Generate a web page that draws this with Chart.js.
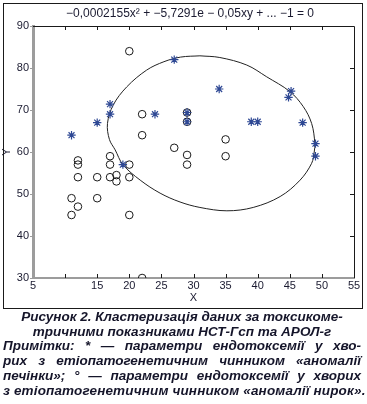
<!DOCTYPE html>
<html><head><meta charset="utf-8">
<script src="https://cdn.jsdelivr.net/npm/chart.js@4.4.1/dist/chart.umd.min.js"></script>
<style>
html,body{margin:0;padding:0;background:#fff}
body{width:367px;height:404px;overflow:hidden;position:relative;font-family:"Liberation Sans",Arial,sans-serif}
#wrap{position:absolute;left:0;top:0;width:367px;height:312px}
#cap{position:absolute;left:3px;top:310px;width:358px;font-weight:bold;font-style:italic;font-size:13.5px;line-height:14.7px;color:#15152a}
#cap div{white-space:nowrap}
.c{text-align:center}
.j{text-align:justify;text-align-last:justify;white-space:normal !important}
.l{text-align:left;letter-spacing:0.15px}
</style></head><body>
<div id="wrap"><canvas id="c" width="367" height="312"></canvas></div>
<div id="cap">
<div class="c">Рисунок 2. Кластеризація даних за токсикоме-</div>
<div class="c">тричними показниками НСТ-Гсп та АРОЛ-г</div>
<div class="j">Примітки: * — параметри ендотоксемії у хво-</div>
<div class="j">рих з етіопатогенетичним чинником «аномалії</div>
<div class="j">печінки»; ° — параметри ендотоксемії у хворих</div>
<div class="l">з етіопатогенетичним чинником «аномалії нирок».</div>
</div>
<script>
// Group "аномалії нирок" (circles)
const circleX = [20, 22, 22, 27, 17, 12, 12, 17, 20, 12, 15, 17, 18, 18, 20, 11, 15, 12, 11, 20, 22, 29, 29, 29, 29, 35, 35];
const circleY = [84, 69, 64, 61, 59, 58, 57, 57, 57, 54, 54, 54, 54.5, 53, 54, 49, 49, 47, 45, 45, 30, 69.4, 67.2, 59.3, 57, 63, 59];
// Group "аномалії печінки" (asterisks)
const starX = [27, 17, 17, 24, 15, 11, 19, 34, 29, 29, 39, 40, 45.2, 44.8, 47, 49, 49];
const starY = [82, 71.4, 69, 69, 67, 64, 57, 75, 69.4, 67.2, 67.2, 67.2, 74.5, 73, 67, 62, 59];
// Cluster boundary (starts and ends at the top)
const ellipseX = [31.0, 34.1, 38.3, 41.4, 45.0, 47.1, 48.4, 48.9, 48.8, 48.4, 46.6, 43.5, 39.3, 35.2, 31.0, 27.9, 24.8, 21.7, 19.0, 17.8, 16.9, 16.6, 17.5, 19.6, 22.7, 25.4, 28.0, 31.0];
const ellipseY = [82.9, 82.5, 80.7, 77.9, 74.4, 70.8, 66.8, 62.1, 60.0, 57.3, 53.3, 49.4, 46.8, 46.0, 46.8, 48.1, 50.2, 53.3, 57.0, 60.5, 63.0, 66.8, 71.2, 75.5, 79.5, 81.5, 82.6, 82.9];
const xTicksHidden = [10];
const titleText = '−0,0002155x² + −5,7291e − 0,05xy + ... −1 = 0';

const zip = (a, b) => a.map((v, i) => ({x: v, y: b[i]}));
const FONT = '"Liberation Sans", Arial, sans-serif';
const TXT = '#1a1a30';

const framePlugin = {
  id: 'frame',
  afterDraw(chart) {
    const {ctx, chartArea: a, scales: {x, y}} = chart;
    ctx.save();
    ctx.strokeStyle = '#1a1a1a';
    ctx.lineWidth = 1;
    ctx.strokeRect(3.5, 3.5, 359, 305);
    ctx.beginPath();
    ctx.moveTo(a.left, a.top + 0.5);
    ctx.lineTo(a.right + 0.5, a.top + 0.5);
    ctx.lineTo(a.right + 0.5, a.bottom);
    ctx.stroke();
    ctx.beginPath();
    x.ticks.forEach(t => {
      if (t.value > x.min && t.value < x.max) {
        const p = Math.round(x.getPixelForValue(t.value)) + 0.5;
        ctx.moveTo(p, a.top); ctx.lineTo(p, a.top + 4);
        ctx.moveTo(p, a.bottom); ctx.lineTo(p, a.bottom - 4);
      }
    });
    y.ticks.forEach(t => {
      if (t.value > y.min && t.value < y.max) {
        const p = Math.round(y.getPixelForValue(t.value)) + 0.5;
        ctx.moveTo(a.right, p); ctx.lineTo(a.right - 4, p);
      }
    });
    ctx.stroke();
    ctx.fillStyle = TXT;
    ctx.font = '12px ' + FONT;
    ctx.textAlign = 'center';
    ctx.textBaseline = 'middle';
    ctx.fillText(titleText, 190, 14);
    ctx.restore();
  }
};

new Chart(document.getElementById('c'), {
  type: 'scatter',
  data: {
    datasets: [
      {
        label: 'аномалії нирок',
        data: zip(circleX, circleY),
        pointStyle: 'circle',
        pointRadius: 3.8,
        borderColor: '#1a1a1a',
        backgroundColor: 'rgba(0,0,0,0)',
        borderWidth: 1,
        order: 1
      },
      {
        label: 'аномалії печінки',
        data: zip(starX, starY),
        pointStyle: 'star',
        pointRadius: 4.2,
        borderColor: '#2e4894',
        backgroundColor: '#2e4894',
        borderWidth: 1.2,
        order: 0
      },
      {
        label: 'межа кластера',
        data: zip(ellipseX, ellipseY),
        showLine: true,
        tension: 0.35,
        pointRadius: 0,
        borderColor: '#222',
        borderWidth: 1,
        fill: false,
        order: 2
      }
    ]
  },
  options: {
    responsive: false,
    animation: false,
    layout: {padding: {left: 0, right: 13, top: 26, bottom: 4}},
    plugins: {legend: {display: false}, tooltip: {enabled: false}, title: {display: false}},
    scales: {
      x: {
        type: 'linear', min: 5, max: 55,
        afterFit: s => { s.height = 30; },
        ticks: {
          stepSize: 5, padding: 1, color: TXT, font: {size: 11, family: FONT},
          callback: v => xTicksHidden.includes(v) ? '' : String(v)
        },
        grid: {display: true, drawOnChartArea: false, drawTicks: false},
        border: {color: '#9c9c9c', width: 2},
        title: {display: true, text: 'X', color: TXT, font: {size: 11, family: FONT}, padding: {top: 0, bottom: 3}}
      },
      y: {
        type: 'linear', min: 30, max: 90,
        afterFit: s => { s.width = 33; },
        ticks: {stepSize: 10, padding: 1, color: TXT, font: {size: 11, family: FONT}},
        grid: {display: true, drawOnChartArea: false, drawTicks: true, tickLength: 3, color: '#9c9c9c'},
        border: {color: '#9c9c9c', width: 3},
        title: {display: true, text: 'Y', color: TXT, font: {size: 11, family: FONT}, padding: {top: 0, bottom: 0}}
      }
    }
  },
  plugins: [framePlugin]
});
</script>
</body></html>
